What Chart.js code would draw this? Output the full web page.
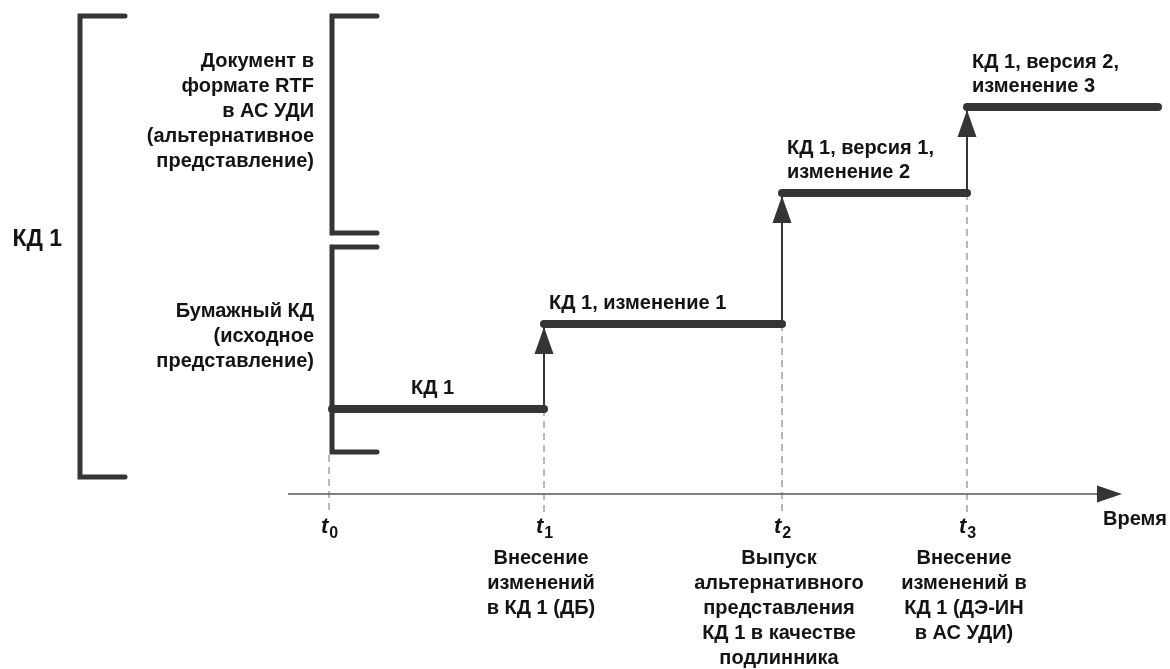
<!DOCTYPE html>
<html lang="ru">
<head>
<meta charset="utf-8">
<title>КД 1</title>
<script src="https://cdn.jsdelivr.net/npm/chart.js@4.4.1/dist/chart.umd.min.js"></script>
<style>
  html, body { margin: 0; padding: 0; background: #fff; }
  #wrap { position: relative; width: 1170px; height: 669px; }
</style>
</head>
<body>
<div id="wrap"><canvas id="diagram"></canvas></div>
<script>
// moments t0..t3 on the time axis and the level of KD 1 after each of them
const moments = ['0', '1', '2', '3'];
const momentX = [0, 2.15, 4.53, 6.38];
const levels = [0.85, 1.70, 3.01, 3.87];
const lastX = 8.29;
const axisFrom = -0.41;
const axisTo = 7.93;
const axisTitle = 'Время';

const stepLabels = [
  ['КД 1'],
  ['КД 1, изменение 1'],
  ['КД 1, версия 1,', 'изменение 2'],
  ['КД 1, версия 2,', 'изменение 3']
];
const eventLabels = [
  [],
  ['Внесение', 'изменений', 'в КД 1 (ДБ)'],
  ['Выпуск', 'альтернативного', 'представления', 'КД 1 в качестве', 'подлинника'],
  ['Внесение', 'изменений в', 'КД 1 (ДЭ-ИН', 'в АС УДИ)']
];

// brackets: whole document and its two representations
const docName = 'КД 1';
const docX = -2.49;
const docRange = [0.17, 4.78];
const reprX = 0.03;
const reprRanges = [[2.61, 4.78], [0.42, 2.47]];
const reprLabels = [
  ['Документ в', 'формате RTF', 'в АС УДИ', '(альтернативное', 'представление)'],
  ['Бумажный КД', '(исходное', 'представление)']
];
const bracketTick = 0.45;
const guideBottom = -0.18;

const stroke = '#353535';
const ink = '#141414';
const font = (size, style) => (style || 'bold') + ' ' + size + 'px "Liberation Sans", Arial, sans-serif';

const line = (label, data, width, extra) => Object.assign({
    label: label,
    data: data,
    showLine: true,
    borderColor: stroke,
    borderWidth: width,
    pointRadius: 0,
    clip: false
}, extra || {});

const bracket = (bx, range) => [
    { x: bx + bracketTick, y: range[1] },
    { x: bx, y: range[1] },
    { x: bx, y: range[0] },
    { x: bx + bracketTick, y: range[0] }
];

const datasets = [];

// steps of KD 1 (thick)
levels.forEach((lv, i) => {
    const end = i < momentX.length - 1 ? momentX[i + 1] : lastX;
    datasets.push(line('step' + i, [{ x: i === 0 ? reprX : momentX[i], y: lv }, { x: end, y: lv }], 8, { borderCapStyle: 'round' }));
});

// risers between levels
for (let i = 1; i < momentX.length; i++) {
    datasets.push(line('rise' + i, [{ x: momentX[i], y: levels[i - 1] }, { x: momentX[i], y: levels[i] }], 2));
}

// brackets
datasets.push(line('doc', bracket(docX, docRange), 5, { borderCapStyle: 'round', borderJoinStyle: 'miter' }));
reprRanges.forEach((r, i) => {
    datasets.push(line('repr' + i, bracket(reprX, r), 5, { borderCapStyle: 'round', borderJoinStyle: 'miter' }));
});

// dashed guides to the time axis
momentX.forEach((mx, i) => {
    const top = i === 0 ? reprRanges[1][0] - 0.03 : levels[i - 1];
    datasets.push(line('guide' + i, [{ x: mx, y: top }, { x: mx, y: guideBottom }], 1, { borderDash: [7, 5], borderColor: '#707070' }));
});

// time axis
datasets.push(line('axis', [{ x: axisFrom, y: 0 }, { x: axisTo - 0.2, y: 0 }], 1.5, { borderColor: '#555' }));

function drawRows(ctx, rows, x, y, step) {
    rows.forEach((r, i) => ctx.fillText(r, x, y + i * step));
}

const textPlugin = {
    id: 'texts',
    afterDatasetsDraw(chart) {
        const { ctx } = chart;
        const xs = chart.scales.x;
        const ys = chart.scales.y;
        const axisY = ys.getPixelForValue(0);
        ctx.save();

        // arrow heads on risers
        ctx.fillStyle = stroke;
        for (let i = 1; i < momentX.length; i++) {
            const px = xs.getPixelForValue(momentX[i]);
            const tip = ys.getPixelForValue(levels[i]) + 3;
            ctx.beginPath();
            ctx.moveTo(px, tip);
            ctx.lineTo(px - 9.5, tip + 27);
            ctx.lineTo(px + 9.5, tip + 27);
            ctx.closePath();
            ctx.fill();
        }
        // axis arrow head
        const ax = xs.getPixelForValue(axisTo);
        ctx.beginPath();
        ctx.moveTo(ax, axisY);
        ctx.lineTo(ax - 25, axisY - 8.5);
        ctx.lineTo(ax - 25, axisY + 8.5);
        ctx.closePath();
        ctx.fill();

        ctx.fillStyle = ink;
        ctx.textBaseline = 'middle';

        // document name
        ctx.font = font(23);
        ctx.textAlign = 'right';
        const docMid = (ys.getPixelForValue(docRange[0]) + ys.getPixelForValue(docRange[1])) / 2;
        ctx.fillText(docName, xs.getPixelForValue(docX) - 18, docMid - 7);

        // representation captions
        ctx.font = font(20);
        reprRanges.forEach((r, i) => {
            const mid = (ys.getPixelForValue(r[0]) + ys.getPixelForValue(r[1])) / 2 - 13;
            const rows = reprLabels[i];
            drawRows(ctx, rows, xs.getPixelForValue(reprX) - 18, mid - (rows.length - 1) * 25 / 2, 25);
        });

        // step captions
        stepLabels.forEach((rows, i) => {
            const ly = ys.getPixelForValue(levels[i]) - 21 - (rows.length - 1) * 24;
            if (i === 0) {
                ctx.textAlign = 'center';
                const mid = (xs.getPixelForValue(momentX[0]) + xs.getPixelForValue(momentX[1])) / 2 - 4;
                drawRows(ctx, rows, mid, ly, 24);
            } else {
                ctx.textAlign = 'left';
                drawRows(ctx, rows, xs.getPixelForValue(momentX[i]) + 5, ly, 24);
            }
        });

        // moments t_i and their descriptions
        moments.forEach((m, i) => {
            const px = xs.getPixelForValue(momentX[i]);
            ctx.font = font(22, 'italic bold');
            const tw = ctx.measureText('t').width;
            ctx.font = font(16);
            const sw = ctx.measureText(m).width;
            const left = px - (tw + sw) / 2;
            ctx.textAlign = 'left';
            ctx.font = font(22, 'italic bold');
            ctx.fillText('t', left, axisY + 33);
            ctx.font = font(16);
            ctx.fillText(m, left + tw + 1, axisY + 40);

            ctx.font = font(20);
            ctx.textAlign = 'center';
            drawRows(ctx, eventLabels[i], px - 3, axisY + 64, 25);
        });

        // axis title
        ctx.font = font(20);
        ctx.textAlign = 'right';
        ctx.fillText(axisTitle, chart.width - 3, axisY + 25);

        ctx.restore();
    }
};

new Chart(document.getElementById('diagram'), {
    type: 'scatter',
    data: { datasets: datasets },
    options: {
        responsive: true,
        maintainAspectRatio: false,
        animation: false,
        layout: { padding: 0 },
        plugins: { legend: { display: false }, tooltip: { enabled: false } },
        scales: {
            x: { type: 'linear', min: -3.29, max: 8.41, display: false },
            y: { type: 'linear', min: -1.75, max: 4.94, display: false }
        }
    },
    plugins: [textPlugin]
});
</script>
</body>
</html>
